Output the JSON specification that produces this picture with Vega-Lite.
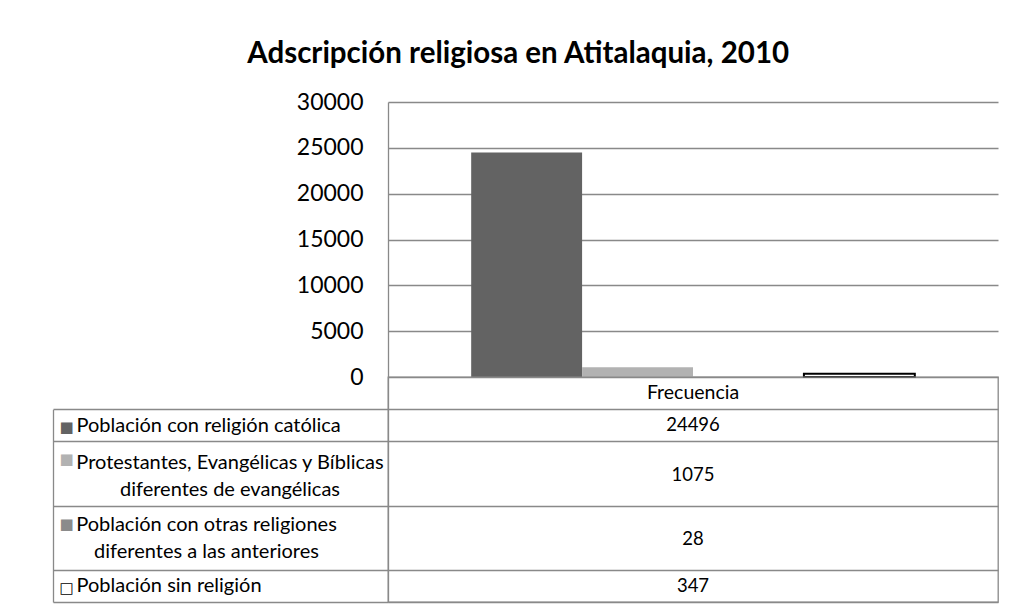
{
  "$schema": "https://vega.github.io/schema/vega-lite/v6.json",
  "background": "white",
  "padding": {"left": 51, "top": 38, "right": 8, "bottom": 4},
  "title": {
    "text": "Adscripción religiosa en Atitalaquia, 2010",
    "font": "Lato",
    "fontSize": 29.5,
    "fontWeight": "bold",
    "color": "#000000",
    "anchor": "middle",
    "offset": 22,
    "dx": -7
  },
  "data": {
    "values": [
      {"cat": "Frecuencia", "serie": "Población con religión católica", "valor": 24496},
      {"cat": "Frecuencia", "serie": "Protestantes, Evangélicas y Bíblicas diferentes de evangélicas", "valor": 1075},
      {"cat": "Frecuencia", "serie": "Población con otras religiones diferentes a las anteriores", "valor": 28},
      {"cat": "Frecuencia", "serie": "Población sin religión", "valor": 347}
    ]
  },
  "config": {
    "font": "Lato",
    "view": {"stroke": null},
    "axis": {"labelFont": "Lato", "labelColor": "#000000", "labelLimit": 600},
    "text": {"fontSize": 18.5, "font": "Lato", "color": "#000000", "align": "center", "baseline": "middle"}
  },
  "bounds": "flush",
  "spacing": 0,
  "vconcat": [
    {
      "width": 610,
      "height": 275,
      "mark": {"type": "bar", "strokeWidth": 2},
      "encoding": {
        "x": {
          "field": "cat",
          "type": "nominal",
          "scale": {"paddingInner": 0, "paddingOuter": 0},
          "axis": null
        },
        "xOffset": {
          "field": "serie",
          "type": "nominal",
          "sort": [
            "Población con religión católica",
            "Protestantes, Evangélicas y Bíblicas diferentes de evangélicas",
            "Población con otras religiones diferentes a las anteriores",
            "Población sin religión"
          ],
          "scale": {"paddingInner": 0, "paddingOuter": 0.75}
        },
        "y": {
          "field": "valor",
          "type": "quantitative",
          "scale": {"domain": [0, 30000], "nice": false},
          "axis": {
            "title": null,
            "values": [0, 5000, 10000, 15000, 20000, 25000, 30000],
            "format": "d",
            "ticks": false,
            "labelPadding": 25,
            "labelFontSize": 23,
            "grid": true,
            "gridColor": "#898989",
            "gridWidth": 1.3,
            "domainColor": "#898989",
            "domainWidth": 1.3
          }
        },
        "color": {
          "field": "serie",
          "type": "nominal",
          "scale": {
            "domain": [
              "Población con religión católica",
              "Protestantes, Evangélicas y Bíblicas diferentes de evangélicas",
              "Población con otras religiones diferentes a las anteriores",
              "Población sin religión"
            ],
            "range": ["#636363", "#b2b2b2", "#8b8b8b", "#ffffff"]
          },
          "legend": null
        },
        "stroke": {
          "condition": {"test": "datum.serie == 'Población sin religión'", "value": "#000000"},
          "value": null
        }
      }
    },
    {
      "width": 610,
      "height": 225,
      "view": {"stroke": "#898989", "strokeWidth": 1.3},
      "resolve": {"axis": {"y": "independent"}},
      "layer": [
        {
          "transform": [{"filter": {"field": "serie", "equal": "Población con religión católica"}}],
          "mark": {"type": "text"},
          "encoding": {
            "x": {
              "field": "cat",
              "type": "nominal",
              "scale": {"paddingInner": 0, "paddingOuter": 0},
              "axis": null
            },
            "y": {
              "field": "serie",
              "type": "nominal",
              "scale": {
                "domain": [
                  "Frecuencia",
                  "Población con religión católica",
                  "Protestantes, Evangélicas y Bíblicas diferentes de evangélicas",
                  "Protestantes, Evangélicas y Bíblicas diferentes de evangélicas (2)",
                  "Población con otras religiones diferentes a las anteriores",
                  "Población con otras religiones diferentes a las anteriores (2)",
                  "Población sin religión"
                ],
                "paddingInner": 0,
                "paddingOuter": 0
              },
              "axis": {
                "title": null,
                "orient": "left",
                "values": [
                  "Frecuencia",
                  "Población con religión católica",
                  "Protestantes, Evangélicas y Bíblicas diferentes de evangélicas (2)",
                  "Población con otras religiones diferentes a las anteriores (2)",
                  "Población sin religión"
                ],
                "tickOffset": 16.07,
                "ticks": true,
                "tickSize": 335,
                "tickColor": "#898989",
                "tickWidth": 1.3,
                "domain": true,
                "domainColor": "#898989",
                "domainWidth": 1.3,
                "grid": true,
                "gridColor": "#898989",
                "gridWidth": 1.3,
                "labelExpr": "datum.value == 'Población con religión católica' || datum.value == 'Población sin religión' ? datum.value : ''",
                "labelFontSize": 20,
                "labelBaseline": "middle",
                "labelAlign": "left",
                "labelPadding": -23,
                "labelOffset": -16.07
              }
            },
            "text": {"field": "valor", "type": "quantitative", "format": "d"}
          }
        },
        {
          "transform": [{"filter": {"field": "serie", "equal": "Población con religión católica"}}],
          "mark": {"type": "text", "fontSize": 19.5},
          "encoding": {
            "x": {"field": "cat", "type": "nominal"},
            "y": {"datum": "Frecuencia", "type": "nominal", "axis": null},
            "text": {"field": "cat", "type": "nominal"}
          }
        },
        {
          "transform": [{"filter": {"field": "serie", "equal": "Protestantes, Evangélicas y Bíblicas diferentes de evangélicas"}}],
          "mark": {"type": "text", "dy": 17.5},
          "encoding": {
            "x": {"field": "cat", "type": "nominal"},
            "y": {
              "field": "serie",
              "type": "nominal",
              "axis": {
                "title": null,
                "orient": "left",
                "values": ["Protestantes, Evangélicas y Bíblicas diferentes de evangélicas (2)"],
                "ticks": false,
                "grid": false,
                "domain": false,
                "labelExpr": "['Protestantes, Evangélicas y Bíblicas', 'diferentes de evangélicas']",
                "labelFontSize": 20,
                "labelLineHeight": 27,
                "labelBaseline": "middle",
                "labelAlign": "center",
                "labelPadding": 158.5,
                "labelOffset": -27
              }
            },
            "text": {"field": "valor", "type": "quantitative", "format": "d"}
          }
        },
        {
          "transform": [{"filter": {"field": "serie", "equal": "Población con otras religiones diferentes a las anteriores"}}],
          "mark": {"type": "text", "dy": 17.5},
          "encoding": {
            "x": {"field": "cat", "type": "nominal"},
            "y": {
              "field": "serie",
              "type": "nominal",
              "axis": {
                "title": null,
                "orient": "left",
                "values": ["Población con otras religiones diferentes a las anteriores (2)"],
                "ticks": false,
                "grid": false,
                "domain": false,
                "labelExpr": "['Población con otras religiones', 'diferentes a las anteriores']",
                "labelFontSize": 20,
                "labelLineHeight": 27,
                "labelBaseline": "middle",
                "labelAlign": "center",
                "labelPadding": 182,
                "labelOffset": -29
              }
            },
            "text": {"field": "valor", "type": "quantitative", "format": "d"}
          }
        },
        {
          "transform": [{"filter": {"field": "serie", "equal": "Población sin religión"}}],
          "mark": {"type": "text"},
          "encoding": {
            "x": {"field": "cat", "type": "nominal"},
            "y": {
              "field": "serie",
              "type": "nominal",
              "axis": {
                "title": null,
                "orient": "left",
                "offset": 335,
                "values": [
                  "Población con religión católica",
                  "Protestantes, Evangélicas y Bíblicas diferentes de evangélicas",
                  "Población con otras religiones diferentes a las anteriores",
                  "Población sin religión"
                ],
                "ticks": false,
                "grid": false,
                "domain": true,
                "domainColor": "#898989",
                "domainWidth": 1.3,
                "domainDash": [0, 32.14, 400],
                "labelExpr": "datum.value == 'Población sin religión' ? '□' : '■'",
                "labelFont": "DejaVu Sans",
                "labelFontSize": 15,
                "labelAlign": "left",
                "labelBaseline": "middle",
                "labelPadding": -6,
                "labelOffset": 1.5,
                "labelColor": {"expr": "datum.value == 'Población con religión católica' ? '#636363' : indexof(datum.value, 'Protestantes') >= 0 ? '#b2b2b2' : indexof(datum.value, 'otras') >= 0 ? '#8b8b8b' : '#000000'"}
              }
            },
            "text": {"field": "valor", "type": "quantitative", "format": "d"}
          }
        }
      ]
    }
  ]
}
